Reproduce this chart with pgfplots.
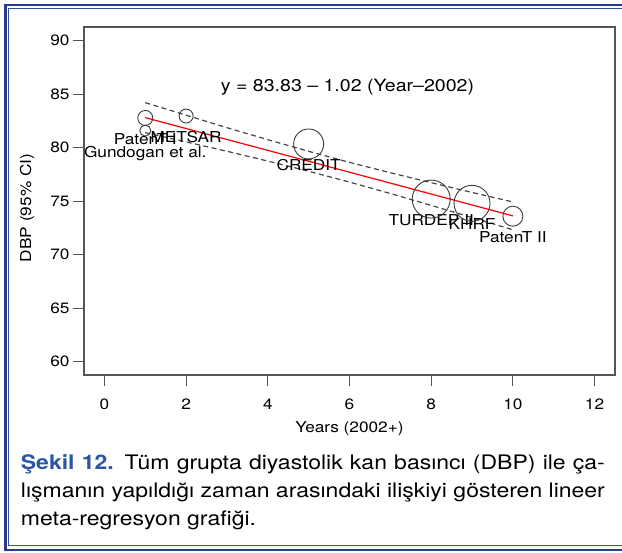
\documentclass[border=0pt]{standalone}
\usepackage{pgfplots}
\pgfplotsset{compat=1.18}
\usepackage{fontspec}
\setmainfont{TeX Gyre Heros}[FakeStretch=1.15]
\definecolor{navy}{RGB}{42,58,140}
\definecolor{navyin}{RGB}{48,80,160}
\definecolor{capblue}{RGB}{43,85,165}
\definecolor{axgray}{RGB}{85,85,85}
\definecolor{circ}{RGB}{60,60,60}
\definecolor{band}{RGB}{70,70,70}
\begin{document}
\begin{tikzpicture}
\path[use as bounding box] (0,0) rectangle (622pt,-553pt);
\fill[white] (0,0) rectangle (622pt,-553pt);
\draw[navy, line width=2.8pt] (630pt,-5pt) -- (5.3pt,-5pt) -- (5.3pt,-550pt) -- (630pt,-550pt);
\draw[navyin, line width=1pt] (630pt,-8.8pt) -- (8.8pt,-8.8pt) -- (8.8pt,-546pt) -- (630pt,-546pt);
\begin{axis}[at={(84pt,-375pt)}, anchor=south west, scale only axis,
  width=531pt, height=348pt,
  xmin=-0.5, xmax=12.5, ymin=58.76, ymax=91.28,
  xtick={0,2,...,12}, ytick={60,65,...,90},
  axis line style={axgray, line width=1.4pt},
  tick style={axgray, line width=1.2pt},
  tick align=outside, major tick length=11pt,
  xtick pos=bottom, ytick pos=left,
  ticklabel style={font=\fontsize{15}{18}\selectfont},
  xticklabel style={yshift=-9pt},
  /pgf/number format/assume math mode=true,
  xlabel={Years (2002+)}, ylabel={DBP (95\% CI)},
  label style={font=\fontsize{15}{18}\selectfont},
  xlabel style={at={(axis description cs:0.5,-0.1638)}, anchor=base},
  ylabel style={at={(axis description cs:-0.1073,0.48)}, anchor=center},
]
\addplot[band, line width=1.2pt, dash pattern=on 5pt off 3.5pt] coordinates {
 (1,84.21) (2,83.04) (3,81.87) (4,80.75) (5,79.66) (6,78.63) (7,77.66) (8,76.73) (9,75.82) (10,74.93)};
\addplot[band, line width=1.2pt, dash pattern=on 5pt off 3.5pt] coordinates {
 (1,81.41) (2,80.54) (3,79.67) (4,78.75) (5,77.80) (6,76.79) (7,75.72) (8,74.61) (9,73.48) (10,72.33)};
\addplot[red, line width=1.2pt] coordinates {(1,82.81) (10,73.63)};
\addplot[only marks, mark=o, mark size=7.5pt, circ, mark options={line width=0.9pt}] coordinates {(1,82.78)};
\addplot[only marks, mark=o, mark size=5.5pt, circ, mark options={line width=0.9pt}] coordinates {(1,81.6)};
\addplot[only marks, mark=o, mark size=7pt, circ, mark options={line width=0.9pt}] coordinates {(2,82.96)};
\addplot[only marks, mark=o, mark size=15pt, circ, mark options={line width=0.9pt}] coordinates {(5,80.35)};
\addplot[only marks, mark=o, mark size=19pt, circ, mark options={line width=0.9pt}] coordinates {(8,75.2)};
\addplot[only marks, mark=o, mark size=18pt, circ, mark options={line width=0.9pt}] coordinates {(9,74.8)};
\addplot[only marks, mark=o, mark size=10pt, circ, mark options={line width=0.9pt}] coordinates {(10,73.6)};
\begin{scope}[every node/.style={anchor=base, yshift=-26.5pt, font=\fontsize{15}{18}\selectfont, inner sep=0pt}]
\node at (axis cs:1,82.78) {PatenT I};
\node at (axis cs:1,81.6) {Gundogan et al.};
\node at (axis cs:2,82.96) {METSAR};
\node at (axis cs:5,80.35) {CREDIT};
\node at (axis cs:8,75.2) {TURDEP II};
\node at (axis cs:9,74.8) {KHRF};
\node at (axis cs:10,73.6) {PatenT II};
\end{scope}
\node[anchor=base, inner sep=0pt, font=\fontsize{17}{20}\selectfont] at (axis cs:5.95,85.23) {y = 83.83 – 1.02 (Year–2002)};
\end{axis}
\begin{scope}[every node/.style={anchor=base west, inner sep=0pt, font=\fontsize{20}{24}\selectfont}]
\node at (20.7pt,-469.5pt) {\makebox[584pt][s]{\textcolor{capblue}{\bfseries Şekil 12.} Tüm grupta diyastolik kan basıncı (DBP) ile ça-}};
\node at (20.7pt,-497.5pt) {\makebox[584pt][s]{lışmanın yapıldığı zaman arasındaki ilişkiyi gösteren lineer}};
\node at (20.7pt,-525.5pt) {meta-regresyon grafiği.};
\end{scope}
\end{tikzpicture}
\end{document}
